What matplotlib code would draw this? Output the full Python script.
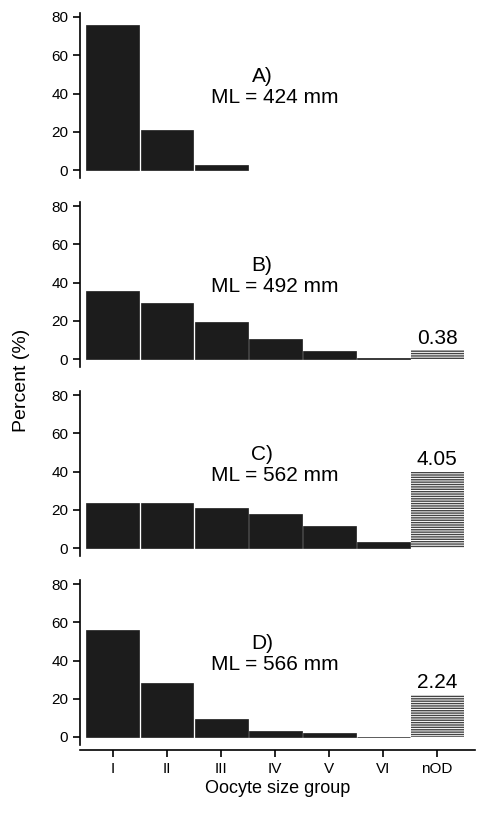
import matplotlib
matplotlib.use("Agg")
import matplotlib.pyplot as plt

plt.rcParams['font.family'] = ['Liberation Sans', 'DejaVu Sans']

categories = ["I", "II", "III", "IV", "V", "VI", "nOD"]
panel_labels = ["A)", "B)", "C)", "D)"]
ml_labels = ["ML = 424 mm", "ML = 492 mm", "ML = 562 mm", "ML = 566 mm"]
vals_A = [76, 21, 2.5, None, None, None, None]
vals_B = [35.5, 29.5, 19.5, 10.5, 4, 0.3, 4.5]
vals_C = [23.5, 23.5, 21, 18, 11.5, 3, 40]
vals_D = [56, 28, 9.5, 3, 2, 0.2, 22]
nod_labels = [None, "0.38", "4.05", "2.24"]
yticks = [0, 20, 40, 60, 80]

W, H = 478, 815
fig = plt.figure(figsize=(W/100, H/100), dpi=100)
zeros = [170, 359, 548, 737]
ppu = 153/80
ymin, ymax = -6.75, 85
left, right = 80, 475
xmin, xmax = -0.61, 6.7
for k, (vals, z) in enumerate(zip([vals_A, vals_B, vals_C, vals_D], zeros)):
    top = z - ymax*ppu
    bot = z - ymin*ppu
    ax = fig.add_axes([left/W, 1-bot/H, (right-left)/W, (bot-top)/H])
    for i, v in enumerate(vals):
        if v is None:
            continue
        if i == 6:
            ax.bar(i, v, width=0.98, color='white', edgecolor='#444444', hatch='-------', linewidth=0)
        else:
            ax.bar(i, v, width=0.98, color='#1c1c1c', edgecolor='#1c1c1c', linewidth=0.5)
    if nod_labels[k]:
        ax.text(6, vals[6] + 1.5, nod_labels[k], ha='center', va='bottom', fontsize=15)
    ax.text(2.76, 49, panel_labels[k], ha='center', va='center', fontsize=15)
    ax.text(3.0, 38, ml_labels[k], ha='center', va='center', fontsize=15)
    ax.set_xlim(xmin, xmax)
    ax.set_ylim(ymin, ymax)
    ax.set_yticks(yticks)
    ax.tick_params(axis='y', labelsize=11, length=5, width=1.2)
    for s in ['top', 'right']:
        ax.spines[s].set_visible(False)
    ax.spines['left'].set_bounds(-4, 82)
    ax.spines['left'].set_linewidth(1.2)
    if k < 3:
        ax.spines['bottom'].set_visible(False)
        ax.set_xticks([])
    else:
        ax.spines['bottom'].set_linewidth(1.2)
        ax.set_xticks(range(7))
        ax.set_xticklabels(categories)
        ax.tick_params(axis='x', labelsize=11, length=5, width=1.2)
        ax.set_xlabel("Oocyte size group", fontsize=13, labelpad=3)

fig.text(22/W, 1-380/H, "Percent (%)", rotation=90, ha='center', va='center', fontsize=14)
fig.savefig("out.png", dpi=100)
